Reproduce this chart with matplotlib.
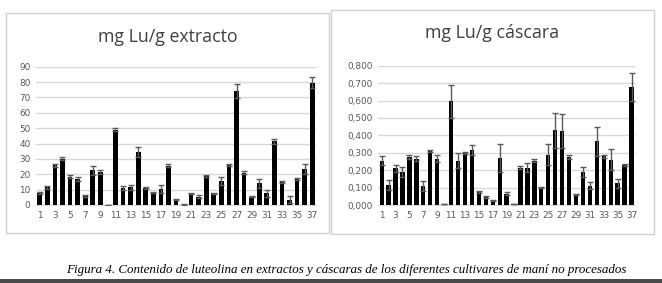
import matplotlib
matplotlib.use("Agg")
import matplotlib.pyplot as plt
import numpy as np
from matplotlib.patches import Rectangle
from matplotlib.ticker import FuncFormatter

cultivars = list(range(1, 38))
tick_labels = [str(i) for i in range(1, 38, 2)]

extracto = [8, 11.5, 26, 30, 18.5, 17, 6, 22.5, 21.5, 0.3, 49, 11, 11.5, 34.5, 11, 8,
            10.5, 25.5, 3.5, 0.3, 7.5, 5.5, 19, 7.5, 15.5, 26, 74, 21, 5.5, 14, 7.5,
            41.5, 15, 3.5, 17, 23.5, 79.5]
extracto_err = [0.7, 0.8, 1, 1, 0.7, 1.5, 0.5, 3, 1.5, 0, 0.8, 1.5, 1.8, 3.5, 0.5, 0.5,
                2.5, 1, 0.5, 0.2, 0.5, 0.8, 0.8, 0.5, 2.5, 0.5, 4.5, 1, 0.5, 3, 2, 1.5,
                0.8, 2.5, 0.5, 3.5, 3.5]

cascara = [0.255, 0.115, 0.21, 0.19, 0.275, 0.265, 0.11, 0.31, 0.265, 0.005, 0.595,
           0.255, 0.3, 0.315, 0.075, 0.045, 0.025, 0.27, 0.065, 0.005, 0.215, 0.215,
           0.255, 0.1, 0.29, 0.43, 0.425, 0.275, 0.06, 0.19, 0.11, 0.365, 0.28, 0.26,
           0.125, 0.23, 0.68]
cascara_err = [0.025, 0.03, 0.02, 0.03, 0.01, 0.015, 0.03, 0.005, 0.02, 0, 0.095, 0.045,
               0.005, 0.03, 0.005, 0.005, 0.003, 0.08, 0.01, 0, 0.01, 0.025, 0.01, 0.005,
               0.06, 0.1, 0.1, 0.01, 0.005, 0.03, 0.02, 0.085, 0.01, 0.06, 0.025, 0.005,
               0.08]

titles = ["mg Lu/g extracto", "mg Lu/g cáscara"]
caption = ("Figura 4. Contenido de luteolina en extractos y cáscaras de los "
           "diferentes cultivares de maní no procesados")

W, H = 662, 283
fig = plt.figure(figsize=(W / 100, H / 100), dpi=100)
fig.patch.set_facecolor("white")

# panel frames
for (x0, y0, x1, y1) in [(6, 13, 329, 233), (331, 10, 654, 234)]:
    fig.add_artist(Rectangle((x0 / W, 1 - y1 / H), (x1 - x0) / W, (y1 - y0) / H,
                             transform=fig.transFigure, fill=False,
                             edgecolor="#d0d0d0", linewidth=1.0))

axL = fig.add_axes([36 / W, 1 - 205 / H, 280 / W, (205 - 66.7) / H])
axR = fig.add_axes([378.2 / W, 1 - 205 / H, 256.8 / W, (205 - 65.7) / H])

grey = "#595959"
for ax, vals, errs, ymax, step, fmt, title, tx, ty in [
    (axL, extracto, extracto_err, 90, 10, lambda v, p: f"{v:.0f}", titles[0], 168, 37),
    (axR, cascara, cascara_err, 0.8, 0.1, lambda v, p: f"{v:.3f}".replace(".", ","), titles[1], 492, 33),
]:
    ax.bar(cultivars, vals, width=0.62, color="black", zorder=3)
    ax.errorbar(cultivars, vals, yerr=errs, fmt="none", ecolor="#5a5a5a",
                elinewidth=1.0, capsize=2.2, capthick=1.0, zorder=4)
    ax.set_xlim(0.5, 37.5)
    ax.set_ylim(0, ymax)
    ax.set_yticks(np.arange(0, ymax + step / 2, step))
    ax.yaxis.set_major_formatter(FuncFormatter(fmt))
    ax.set_xticks(list(range(1, 38, 2)))
    ax.set_xticklabels(tick_labels)
    ax.grid(axis="y", color="#d9d9d9", linewidth=1.0, zorder=0)
    for s in ax.spines.values():
        s.set_visible(False)
    ax.spines["bottom"].set_visible(True)
    ax.spines["bottom"].set_color("#d9d9d9")
    ax.tick_params(axis="both", length=0, labelsize=6.4, colors=grey, pad=4)
    fig.text(tx / W, 1 - ty / H, title, ha="center", va="center",
             fontsize=12.8, color="#404040", family="Open Sans")

fig.text(346 / W, 1 - 270 / H, caption, ha="center", va="center",
         fontsize=9.4, style="italic", family="Liberation Serif", color="black")
fig.add_artist(Rectangle((0, 0), 1, 4 / H, transform=fig.transFigure,
                         facecolor="#4a4a4a", edgecolor="none"))

fig.savefig("out.png", dpi=100)
